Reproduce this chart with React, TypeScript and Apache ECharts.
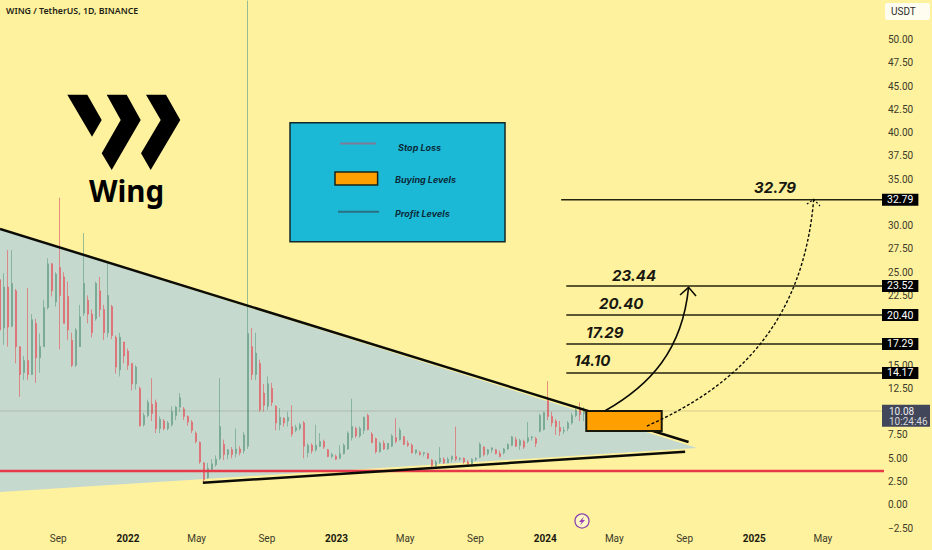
import React, { useEffect, useRef } from "react";
import * as echarts from "echarts";

const axisStart = "2021-05-22";
const axisEnd = "2025-08-16";
const firstCandle = "2021-05-22";
const candleStepDays = 7;

const opens = [24.2,19.0,23.4,19.2,23.0,17.0,14.2,15.5,14.0,19.5,15.8,17.0,21.2,25.9,21.8,25.5,24.5,22.4,17.7,15.0,17.0,20.6,22.0,20.5,20.0,23.0,21.0,18.5,21.3,18.0,14.5,17.5,16.5,15.2,13.0,12.5,8.6,9.6,10.8,11.0,8.2,9.0,8.2,8.6,9.6,10.5,10.3,9.5,8.9,7.7,6.7,4.5,2.9,3.8,4.3,5.0,6.5,5.4,5.9,5.5,6.0,5.8,6.3,17.0,14.0,15.2,12.0,10.6,12.5,10.6,8.6,9.3,9.0,8.4,8.0,8.2,8.8,5.6,6.4,5.9,6.3,6.8,5.9,5.2,5.2,5.0,5.5,6.0,7.2,8.2,7.4,8.0,9.6,7.6,7.1,5.7,6.6,6.0,6.3,7.2,7.0,7.3,6.6,6.4,5.6,5.6,5.5,5.5,4.8,4.2,4.6,4.9,4.5,4.9,5.2,4.9,5.0,4.6,4.4,4.9,5.1,6.2,5.5,5.9,5.9,5.5,5.6,6.0,6.4,7.0,6.4,6.8,6.8,7.2,7.1,7.9,8.1,11.2,9.5,9.0,8.3,7.9,8.2,8.8,9.6,10.4,9.8];
const closes = [18.8,23.4,19.1,23.8,17.0,14.0,15.5,14.0,19.9,15.8,17.0,21.2,25.9,23.0,24.8,22.5,19.5,18.8,15.0,18.8,20.2,23.8,20.5,18.5,23.8,21.0,18.5,22.5,18.2,14.8,18.0,16.0,15.0,13.0,14.8,8.5,9.6,11.0,9.8,8.2,9.2,8.2,8.8,10.0,10.5,11.5,9.5,8.9,8.0,6.8,4.6,2.7,3.9,4.4,4.9,8.4,5.4,5.9,5.4,6.0,5.6,7.5,18.4,14.0,16.3,10.2,10.7,13.0,11.0,8.8,9.4,8.8,9.4,7.6,8.3,8.6,6.3,6.4,5.8,6.4,6.8,6.2,5.2,5.4,4.9,5.5,6.4,7.7,8.4,7.4,8.2,9.4,8.1,6.7,5.7,6.6,6.0,6.6,7.4,6.8,8.0,6.5,6.4,5.6,5.9,5.4,5.6,5.0,4.2,4.6,5.0,4.5,4.9,5.2,4.9,5.0,4.6,4.4,4.9,5.0,6.5,5.4,5.9,6.1,5.5,5.2,6.0,6.5,7.3,6.3,6.9,6.2,7.2,7.3,6.6,9.6,9.9,9.5,8.8,8.4,7.9,8.0,8.8,9.6,10.2,9.7,10.08];
const lows = [14.1,17.2,17.0,19.1,15.2,11.6,13.4,13.4,14.0,13.1,14.2,17.0,21.0,22.4,21.3,16.7,19.5,17.7,14.8,14.8,17.0,20.3,19.5,18.0,19.8,20.2,17.7,18.0,17.8,14.1,13.8,15.2,14.5,12.3,12.4,8.4,8.4,9.4,9.0,7.7,7.7,8.0,8.0,8.4,9.1,10.0,9.1,8.5,7.7,6.6,4.4,2.4,2.8,3.6,4.1,4.8,4.8,4.9,5.0,5.1,5.3,5.5,6.0,13.4,13.4,10.0,10.0,10.2,10.6,8.0,8.0,8.4,8.4,7.3,7.8,8.0,5.0,5.1,5.5,5.7,6.2,6.0,5.1,5.0,4.8,4.9,5.4,5.9,6.9,7.2,7.2,7.6,8.0,6.6,5.5,5.6,5.9,5.9,6.2,6.6,6.9,6.4,6.2,5.5,5.4,5.3,5.2,4.9,4.1,4.1,4.4,4.4,4.5,4.6,4.7,4.7,4.4,4.3,4.3,4.7,5.0,5.2,5.3,5.6,5.4,5.1,5.4,5.9,6.3,6.2,5.9,6.0,6.6,6.9,6.2,7.8,8.0,9.1,8.4,7.5,7.4,7.6,7.9,8.6,9.4,9.0,9.0];
const highs = [37.6,24.9,27.4,27.4,23.2,17.0,16.0,23.3,20.5,20.0,18.4,22.0,26.5,26.0,25.0,33.0,25.0,24.0,18.5,19.0,21.5,29.2,22.5,21.0,24.0,24.5,21.5,26.0,21.5,18.2,18.5,17.5,16.8,15.2,15.0,12.7,9.9,11.3,13.6,11.3,9.5,9.2,9.0,10.6,10.6,12.0,10.5,9.6,9.1,7.9,6.8,4.6,4.5,4.9,5.3,13.6,7.0,6.0,6.2,8.2,6.3,7.8,54.2,19.0,18.5,15.6,13.0,13.8,13.1,10.7,10.4,9.4,10.0,10.7,8.6,8.8,9.0,6.6,6.6,8.6,7.7,7.0,6.0,5.6,5.4,6.4,6.6,7.9,11.4,8.4,8.4,9.5,9.8,7.8,7.2,6.8,6.9,6.6,7.6,9.3,8.3,7.4,6.9,6.6,5.9,5.8,5.7,5.6,4.9,4.8,6.2,5.1,5.1,5.3,8.4,5.1,5.1,4.8,5.0,5.1,6.7,6.3,6.0,6.2,6.0,5.8,6.1,6.6,7.4,7.3,7.1,7.0,8.9,7.4,7.3,9.8,10.0,13.3,10.0,9.2,9.0,8.4,9.0,9.9,10.6,11.0,10.5];

const priceTicksInterval = 2.5;
const priceMin = -2.5;
const priceMax = 54.27;
const coveredTicks = [52.5, 32.5, 20, 17.5, 10];

const dateLabels = [
  ["2021-09-01", "Sep"], ["2022-01-01", "2022"], ["2022-05-01", "May"], ["2022-09-01", "Sep"],
  ["2023-01-01", "2023"], ["2023-05-01", "May"], ["2023-09-01", "Sep"], ["2024-01-01", "2024"],
  ["2024-05-01", "May"], ["2024-09-01", "Sep"], ["2025-01-01", "2025"], ["2025-05-01", "May"],
];

const channelShade = [[axisStart, 29.6], ["2024-09-23", 6.1], [axisStart, 1.37]];
const upperTrend = [[axisStart, 29.65], ["2024-09-08", 6.74]];
const lowerTrend = [["2022-05-12", 2.37], ["2024-09-02", 5.7]];
const stopLoss = 3.62;
const lastPrice = 10.08;
const lastPriceClock = "10:24:46";
const profitLevels = [
  { price: 32.79, from: "2024-01-29" },
  { price: 23.52, from: "2024-02-07" },
  { price: 20.4, from: "2024-02-07" },
  { price: 17.29, from: "2024-02-07" },
  { price: 14.17, from: "2024-02-07" },
];
const buyZone = [["2024-03-13", 10.08], ["2024-07-23", 7.92]];
const solidArrow = [["2024-04-15", 10.11], ["2024-07-03", 12.87], ["2024-08-28", 16.63], ["2024-09-08", 23.38]];
const solidHead = [["2024-08-24", 22.55], ["2024-09-08", 23.38], ["2024-09-21", 22.44]];
const dashedArrow = [["2024-06-27", 8.46], ["2024-12-07", 12.87], ["2025-03-28", 19.86], ["2025-04-15", 32.84]];
const dashedHead = [["2025-04-03", 32.33], ["2025-04-15", 32.84], ["2025-04-26", 32.12]];

const levelTexts = [
  { text: "32.79", x: 754, y: 187 },
  { text: "23.44", x: 612, y: 275 },
  { text: "20.40", x: 599, y: 303.5 },
  { text: "17.29", x: 586, y: 332 },
  { text: "14.10", x: 574, y: 360 },
];
const legendTexts = [
  { text: "Stop Loss", x: 398, y: 147 },
  { text: "Buying Levels", x: 395, y: 179 },
  { text: "Profit Levels", x: 395, y: 213 },
];

const BG = "#fff29e";
const UP = "#6fa38c";
const DOWN = "#df6468";
const FONT = "Roboto, sans-serif";
const ts = (d: string) => new Date(d + "T00:00:00").getTime();

export default function App() {
  const ref = useRef<HTMLDivElement>(null);
  useEffect(() => {
    document.body.style.margin = "0";
    const chart = echarts.init(ref.current!, undefined, { renderer: "svg" });
    const start = ts(firstCandle);
    const candles = opens.map((o, i) => [
      start + i * candleStepDays * 86400000, o, closes[i], lows[i], highs[i],
    ]);
    const pt = (api: any, p: any[]) => api.coord([ts(p[0]), p[1]]);
    const levelLine = (name: string, from: string, price: number, color: string, width: number, label: any) => ({
      name,
      type: "line",
      data: [[ts(from), price], [ts(axisEnd), price]],
      showSymbol: false,
      silent: true,
      z: 4,
      lineStyle: { color, width },
      endLabel: label,
      clip: false,
    });
    const badge = (value: string) => ({
      show: true,
      formatter: value,
      position: "right",
      distance: 0,
      offset: [-2, 0],
      backgroundColor: "#000",
      color: "#fff",
      fontFamily: FONT,
      fontSize: 10.5,
      lineHeight: 9,
      padding: [1.5, 5, 1.5, 5],
    });
    chart.setOption({
      animation: false,
      backgroundColor: BG,
      textStyle: { fontFamily: FONT },
      title: {
        text: "WING / TetherUS, 1D, BINANCE",
        left: 6,
        top: 6,
        padding: 0,
        textStyle: { fontFamily: "'Noto Sans', sans-serif", fontSize: 8.8, fontWeight: 600, color: "#1e1e14" },
      },
      grid: { left: 0, right: 48, top: 0, bottom: 22 },
      xAxis: {
        type: "value",
        min: ts(axisStart),
        max: ts(axisEnd),
        axisLine: { show: false },
        axisTick: { show: false },
        splitLine: { show: false },
        axisLabel: {
          customValues: dateLabels.map((d) => ts(d[0])),
          margin: 5,
          color: "#3c3a28",
          fontFamily: FONT,
          fontSize: 10,
          hideOverlap: false,
          formatter: (v: number) => {
            const found = dateLabels.find((d) => ts(d[0]) === v);
            if (!found) return "";
            return /^\d/.test(found[1]) ? `{y|${found[1]}}` : found[1];
          },
          rich: { y: { fontWeight: 700, color: "#1a1a10", fontFamily: FONT, fontSize: 10 } },
        },
      },
      yAxis: {
        type: "value",
        position: "right",
        min: priceMin,
        max: priceMax,
        interval: priceTicksInterval,
        axisLine: { show: false },
        axisTick: { show: false },
        splitLine: { show: false },
        axisLabel: {
          margin: 4,
          color: "#3c3a28",
          fontFamily: FONT,
          fontSize: 10,
          showMinLabel: true,
          showMaxLabel: false,
          formatter: (v: number) => {
            if (Math.abs(v / priceTicksInterval - Math.round(v / priceTicksInterval)) > 1e-6) return "";
            if (coveredTicks.includes(v)) return "";
            return v < 0 ? "\u2212" + Math.abs(v).toFixed(2) : v.toFixed(2);
          },
        },
      },
      series: [
        {
          name: "shade",
          type: "custom",
          silent: true,
          z: 1,
          data: channelShade.map((p) => [ts(p[0] as string), p[1]]),
          renderItem: (params: any, api: any) =>
            params.dataIndex !== 0
              ? { type: "group", children: [] }
              : {
                  type: "polygon",
                  shape: { points: channelShade.map((p) => pt(api, p)) },
                  style: { fill: "#c6d9cf" },
                },
        },
        {
          name: "WING",
          type: "candlestick",
          data: candles,
          barWidth: 1.6,
          z: 2,
          silent: true,
          itemStyle: { color: UP, color0: DOWN, borderColor: UP, borderColor0: DOWN, borderWidth: 0.7 },
        },
        levelLine("last", axisStart, lastPrice, "rgba(120,120,90,0.3)", 1, { show: false }),
        {
          name: "stop",
          type: "line",
          data: [[ts(axisStart), stopLoss], [ts(axisEnd), stopLoss]],
          showSymbol: false,
          silent: true,
          z: 4,
          lineStyle: { color: "#e6394a", width: 2.5 },
        },
        {
          name: "upper",
          type: "line",
          data: upperTrend.map((p) => [ts(p[0] as string), p[1]]),
          showSymbol: false,
          silent: true,
          z: 4,
          lineStyle: { color: "#0c0c06", width: 2.5 },
        },
        {
          name: "lower",
          type: "line",
          data: lowerTrend.map((p) => [ts(p[0] as string), p[1]]),
          showSymbol: false,
          silent: true,
          z: 4,
          lineStyle: { color: "#0c0c06", width: 2.5 },
        },
        ...profitLevels.map((l) =>
          levelLine("level" + l.price, l.from, l.price, "#24230f", 1.5, badge(l.price.toFixed(2)))
        ),
        {
          name: "overlays",
          type: "custom",
          silent: true,
          z: 6,
          data: buyZone.map((p) => [ts(p[0] as string), p[1]]),
          renderItem: (params: any, api: any) => {
            if (params.dataIndex !== 0) return { type: "group", children: [] };
            const a = pt(api, buyZone[0]);
            const b = pt(api, buyZone[1]);
            const s = solidArrow.map((p) => pt(api, p));
            const d = dashedArrow.map((p) => pt(api, p));
            const curve = (c: number[][]) => ({
              x1: c[0][0], y1: c[0][1], cpx1: c[1][0], cpy1: c[1][1],
              cpx2: c[2][0], cpy2: c[2][1], x2: c[3][0], y2: c[3][1],
            });
            return {
              type: "group",
              children: [
                {
                  type: "rect",
                  shape: { x: a[0], y: a[1], width: b[0] - a[0], height: b[1] - a[1] },
                  style: { fill: "#ff9f00", stroke: "#17170a", lineWidth: 2 },
                },
                {
                  type: "bezierCurve",
                  shape: curve(s),
                  style: { fill: "none", stroke: "#0c0c06", lineWidth: 1.6 },
                },
                {
                  type: "polyline",
                  shape: { points: solidHead.map((p) => pt(api, p)) },
                  style: { fill: "none", stroke: "#0c0c06", lineWidth: 1.6 },
                },
                {
                  type: "bezierCurve",
                  shape: curve(d),
                  style: { fill: "none", stroke: "#0c0c06", lineWidth: 1.4, lineDash: [3, 2] },
                },
                {
                  type: "polyline",
                  shape: { points: dashedHead.map((p) => pt(api, p)) },
                  style: { fill: "none", stroke: "#0c0c06", lineWidth: 1.2, lineDash: [2, 2] },
                },
              ],
            };
          },
        },
      ],
      graphic: [
        { type: "rect", z: 50, shape: { x: 882, y: 404.7, width: 48, height: 22 }, style: { fill: "#41465a" } },
        { type: "text", z: 51, x: 889, y: 411, style: { text: lastPrice.toFixed(2), fill: "#eeeeee", font: `10px ${FONT}`, verticalAlign: "middle" } },
        { type: "text", z: 51, x: 889, y: 421, style: { text: lastPriceClock, fill: "#d8d8d8", font: `10px ${FONT}`, verticalAlign: "middle" } },
        { type: "rect", z: 50, shape: { x: 885, y: 3, width: 45, height: 17, r: 2 }, style: { fill: "#fffdf0" } },
        { type: "text", z: 51, x: 891, y: 11.5, style: { text: "USDT", fill: "#2a2a2a", font: `10px ${FONT}`, verticalAlign: "middle" } },
        { type: "polygon", z: 20, shape: { points: [[67.3,94.7],[87.3,94.7],[101.7,120],[92,136.7]] }, style: { fill: "#000" } },
        { type: "polygon", z: 20, shape: { points: [[106.7,94.7],[126.7,94.7],[140.7,120],[111.7,170],[101.7,153.3],[120.7,120]] }, style: { fill: "#000" } },
        { type: "polygon", z: 20, shape: { points: [[146,94.7],[166,94.7],[180.3,120],[150.7,170],[141,153.3],[160.7,120]] }, style: { fill: "#000" } },
        { type: "text", z: 20, x: 89, y: 190, style: { text: "Wing", fill: "#000", font: `700 29.5px 'Noto Sans', sans-serif`, verticalAlign: "middle" } },
        { type: "rect", z: 20, shape: { x: 290, y: 122.7, width: 215, height: 119 }, style: { fill: "#1cb9d6", stroke: "#14282a", lineWidth: 1.5 } },
        { type: "line", z: 21, shape: { x1: 340, y1: 143.5, x2: 376, y2: 143.5 }, style: { stroke: "#7e7a98", lineWidth: 2 } },
        { type: "rect", z: 21, shape: { x: 335, y: 172, width: 42.6, height: 13 }, style: { fill: "#ff9f00", stroke: "#17241a", lineWidth: 1.5 } },
        { type: "line", z: 21, shape: { x1: 338, y1: 211.7, x2: 379, y2: 211.7 }, style: { stroke: "#2a6f84", lineWidth: 2 } },
        ...legendTexts.map((t) => ({
          type: "text", z: 21, x: t.x, y: t.y,
          style: { text: t.text, fill: "#0b2a3a", font: `italic 700 9px Inter, sans-serif`, verticalAlign: "middle" },
        })),
        ...levelTexts.map((t) => ({
          type: "text", z: 21, x: t.x, y: t.y,
          style: { text: t.text, fill: "#181810", font: `italic 700 15px Inter, sans-serif`, verticalAlign: "middle" },
        })),
        { type: "circle", z: 21, shape: { cx: 582, cy: 521, r: 7 }, style: { fill: "#fff7c4", stroke: "#8e44ad", lineWidth: 1.3 } },
        { type: "polygon", z: 22, shape: { points: [[584,516.5],[579,522],[581.6,522],[580,525.5],[585,520],[582.4,520]] }, style: { fill: "#9b3fb5" } },
      ],
    });
    return () => chart.dispose();
  }, []);
  return <div ref={ref} style={{ width: 932, height: 550 }} />;
}
